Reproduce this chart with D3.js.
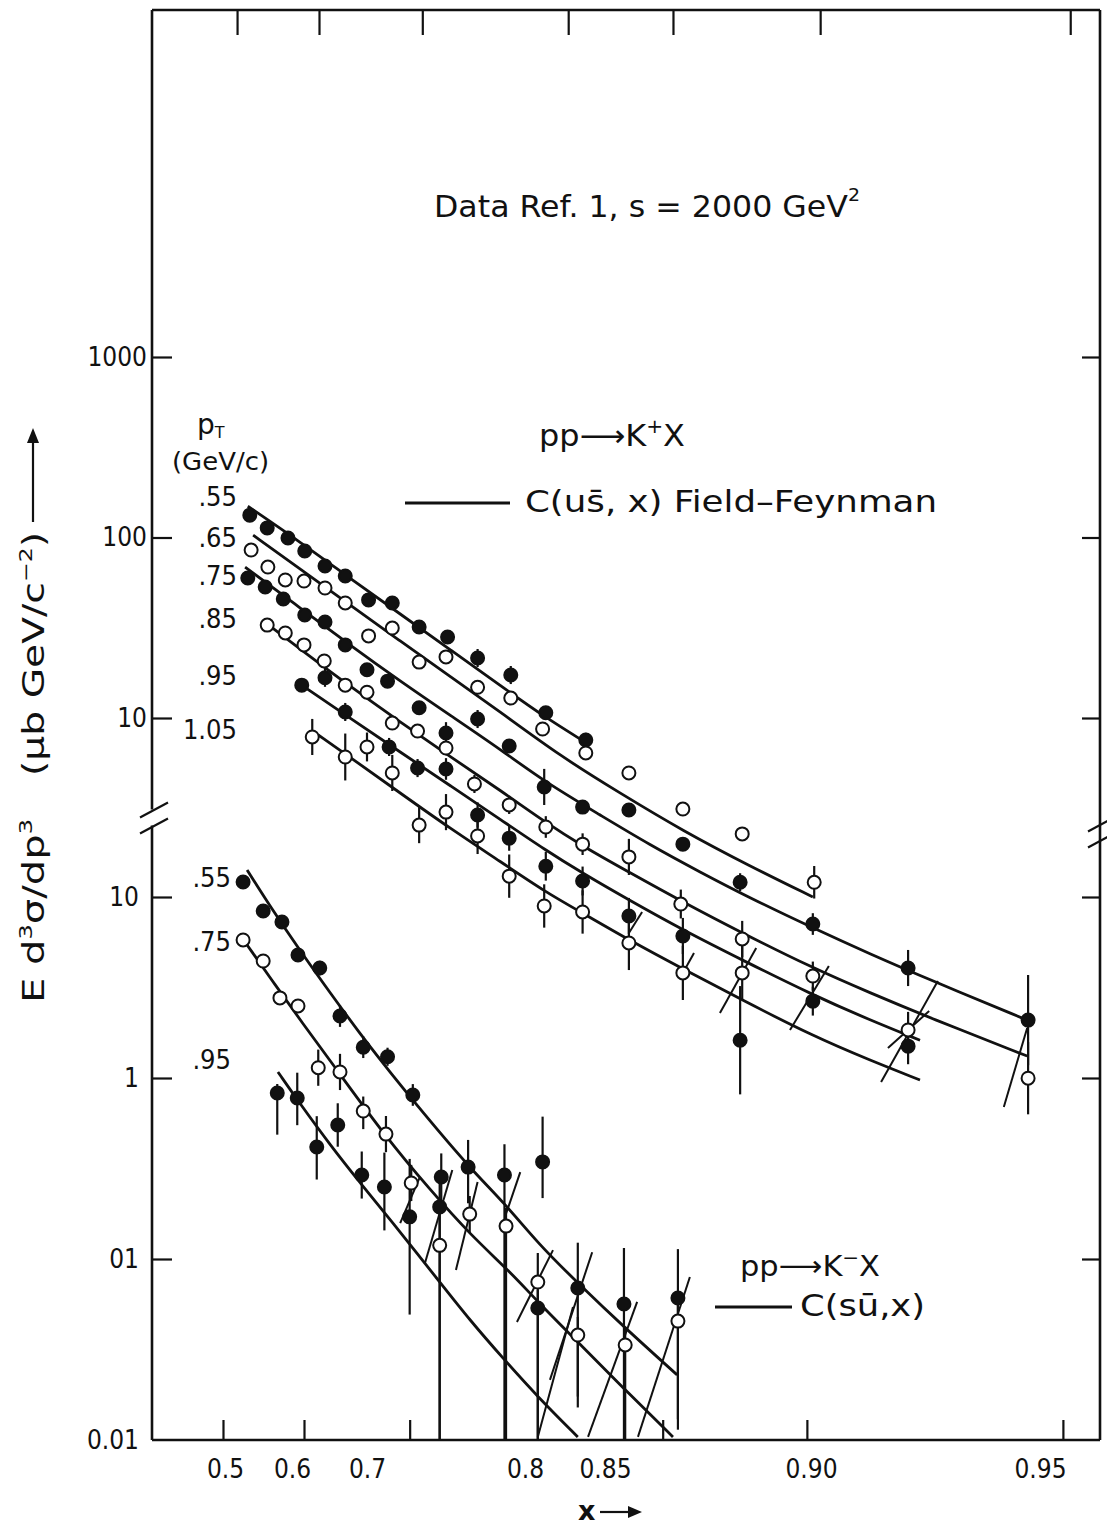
<!DOCTYPE html>
<html><head><meta charset="utf-8">
<script src="https://cdn.jsdelivr.net/npm/d3@7"></script>
<style>
html,body{margin:0;padding:0;background:#fff;}
svg{display:block;font-family:'DejaVu Sans',sans-serif;}
</style></head><body>
<svg id="chart" width="1107" height="1528"></svg>
<script>
// ---------------- axis / tick data ----------------
const xTickVals   = [0.5, 0.6, 0.7, 0.8, 0.85, 0.90, 0.95];
const xTickLabels = ["0.5","0.6","0.7","0.8","0.85","0.90","0.95"];
const xTickMarksBottom = [0.497, 0.616, 0.727, 0.864, 0.899, 0.955];
const xTickMarksTop    = [0.518, 0.636, 0.735, 0.827, 0.8665, 0.902, 0.9566];
const yTicksUpper = [10, 100, 1000];
const yTickLabelsUpper = ["10","100","1000"];
const yTicksLower = [0.01, 0.1, 1, 10];
const yTickLabelsLower = ["0.01","01","1","10"];
const kpPt = [".55",".65",".75",".85",".95","1.05"];
const kmPt = [".55",".75",".95"];

// ---------------- pp -> K+ X data (pT series) ----------------
const kpX55 = [0.537,0.563,0.594,0.617,0.644,0.671,0.701,0.716,0.733,0.751,0.770,0.791,0.813,0.838];
const kpV55 = [133,113,99.4,84.2,69.5,61.2,45.1,43.4,31.9,28.1,21.5,17.3,10.7,7.55];
const kpE55 = [0,0,0,0,0,0,0,0,0,0,0.05,0.05,0,0.04];

const kpX65 = [0.539,0.564,0.590,0.616,0.644,0.671,0.701,0.716,0.733,0.750,0.770,0.791,0.811,0.838,0.8558,0.8689,0.8833,0.9007];
const kpV65 = [85.2,68.6,58.2,57.4,52.5,43.4,28.5,31.5,20.4,21.8,14.8,12.9,8.69,6.40,4.96,3.13,2.28,1.23];
const kpE65 = [0,0,0,0,0,0,0,0,0,0,0,0,0,0,0,0,0,0.09];

const kpX75 = [0.534,0.560,0.587,0.617,0.644,0.671,0.700,0.713,0.733,0.750,0.770,0.790,0.812,0.836,0.8558,0.8689,0.8828,0.9004,0.9212,0.9474];
const kpV75 = [59.6,53.2,45.6,37.2,34.0,25.4,18.5,16.0,11.4,8.26,9.87,7.00,4.15,3.21,3.09,2.00,1.23,0.722,0.412,0.212];
const kpE75 = [0,0,0,0,0,0,0,0.03,0,0.06,0.05,0,0.1,0,0,0,0.05,0.06,0.1,0.25];

const kpX85 = [0.563,0.590,0.616,0.643,0.671,0.700,0.716,0.732,0.750,0.768,0.790,0.813,0.836,0.8558,0.8684,0.8833,0.9004,0.9212,0.9474];
const kpV85 = [32.7,29.6,25.4,20.7,15.2,13.9,9.38,8.47,6.82,4.31,3.30,2.49,2.00,1.70,0.932,0.597,0.372,0.187,0.101];
const kpE85 = [0,0,0,0,0,0,0,0,0.04,0.05,0.05,0.06,0.06,0.1,0.08,0.1,0.08,0.1,0.2];

const kpX95 = [0.613,0.644,0.671,0.714,0.732,0.750,0.770,0.790,0.813,0.836,0.8558,0.8689,0.8828,0.9004,0.9212];
const kpV95 = [15.2,16.7,10.8,6.91,5.28,5.22,2.90,2.16,1.51,1.25,0.800,0.620,0.164,0.270,0.152];
const kpE95 = [0,0.05,0.05,0.05,0.05,0.06,0.07,0.07,0.08,0.08,0.1,0.1,0.3,0.08,0.1];

const kpX105 = [0.627,0.671,0.700,0.716,0.733,0.750,0.770,0.790,0.812,0.836,0.8558,0.8689,0.8833];
const kpV105 = [7.85,6.08,6.91,4.96,2.55,3.01,2.22,1.33,0.909,0.842,0.567,0.387,0.387];
const kpE105 = [0.1,0.13,0.08,0.1,0.1,0.1,0.1,0.12,0.12,0.12,0.15,0.15,0.15];

// Field-Feynman curves C(u s-bar, x)
const kpC55x = [0.534,0.611,0.677,0.721,0.753,0.785,0.8125,0.8375];
const kpC55v = [149,94.4,59.6,37.7,23.8,15.0,10.1,7.36];
const kpC65x = [0.542,0.611,0.677,0.721,0.753,0.785,0.822,0.8536,0.8689,0.8852,0.9004];
const kpC65v = [103,66.9,42.3,26.7,16.9,10.7,6.16,3.84,2.37,1.51,1.02];
const kpC75x = [0.530,0.611,0.677,0.721,0.753,0.785,0.8125,0.847,0.8609,0.8731,0.8852,0.9004,0.9129,0.9260,0.9472];
const kpC75v = [68.6,40.7,25.4,16.0,10.3,6.65,4.42,2.90,1.98,1.40,1.006,0.687,0.493,0.354,0.212];
const kpC85x = [0.557,0.611,0.677,0.721,0.753,0.785,0.8125,0.836,0.8558,0.8689,0.8833,0.9004,0.9129,0.9260,0.9472];
const kpC85v = [34.5,24.1,15.0,9.50,6.08,3.94,2.65,1.95,1.40,0.956,0.644,0.412,0.300,0.218,0.134];
const kpC95x = [0.613,0.677,0.721,0.753,0.785,0.8125,0.836,0.8558,0.8689,0.8833,0.9004,0.9129,0.9238];
const kpC95v = [15.2,10.0,6.48,4.20,2.72,1.86,1.38,0.981,0.669,0.456,0.292,0.212,0.164];
const kpC105x = [0.635,0.677,0.721,0.753,0.785,0.8125,0.836,0.8558,0.8689,0.8833,0.9004,0.9129,0.9238];
const kpC105v = [8.05,6.08,3.84,2.43,1.59,1.09,0.831,0.589,0.407,0.274,0.173,0.127,0.0987];

// slanted error segments [x1, v1, x2, v2]
const kpSlants = [
  [0.8558,0.644,0.8590,0.842],
  [0.8689,0.387,0.8716,0.499],
  [0.8779,0.232,0.8867,0.532],
  [0.8949,0.187,0.9039,0.423],
  [0.9153,0.0962,0.9277,0.349],
  [0.9168,0.1485,0.9258,0.238],
  [0.9421,0.070,0.9472,0.1916]
];

// ---------------- pp -> K- X data ----------------
const kmX55 = [0.527,0.557,0.585,0.608,0.637,0.664,0.695,0.713,0.729,0.747,0.764,0.787,0.811,0.833,0.8546,0.8677];
const kmV55 = [12.1,8.37,7.28,4.78,4.05,2.20,1.48,1.31,0.806,0.284,0.322,0.291,0.344,0.0692,0.0564,0.0609];
const kmLo55 = [0,0,0,0,0.04,0.06,0.06,0.05,0.06,0.15,0.2,2,0.2,0.6,2,0.67];
const kmHi55 = [0,0,0,0,0.04,0.06,0.06,0.05,0.06,0.13,0.15,0.17,0.25,0.25,0.31,0.27];

const kmX75 = [0.527,0.557,0.582,0.608,0.635,0.664,0.695,0.712,0.728,0.746,0.765,0.788,0.808,0.833,0.8549,0.8677];
const kmV75 = [5.79,4.43,2.77,2.50,1.14,1.08,0.657,0.490,0.263,0.119,0.177,0.152,0.0746,0.0380,0.0335,0.0454];
const kmLo75 = [0,0,0,0.03,0.1,0.1,0.1,0.1,0.1,2,0.1,2,2,0.4,2,0.6];
const kmHi75 = [0,0,0,0.03,0.1,0.1,0.08,0.1,0.1,0.2,0.1,0.1,0.16,0.1,0.1,0.1];

const kmX95 = [0.578,0.607,0.633,0.661,0.693,0.711,0.727,0.746,0.808];
const kmV95 = [0.826,0.775,0.416,0.550,0.291,0.250,0.171,0.194,0.0536];
const kmLo95 = [0.23,0.15,0.18,0.12,0.13,0.24,0.54,2,2];
const kmHi95 = [0.05,0.14,0.17,0.12,0.13,0.19,0.32,0.2,0.1];

// curves C(s u-bar, x)
const kmC55x = [0.533,0.567,0.611,0.651,0.695,0.715,0.734,0.765,0.787,0.809,0.833,0.8546,0.8675];
const kmC55v = [14.1,8.92,5.03,2.95,1.66,1.066,0.666,0.318,0.204,0.1195,0.0737,0.0421,0.0229];
const kmC75x = [0.533,0.575,0.611,0.664,0.711,0.740,0.765,0.792,0.808,0.833,0.8549,0.8665];
const kmC75v = [5.43,3.27,2.09,1.05,0.484,0.2405,0.1374,0.0826,0.0579,0.0348,0.0189,0.0104];
const kmC95x = [0.579,0.611,0.651,0.691,0.715,0.745,0.765,0.787,0.808,0.833];
const kmC95v = [1.08,0.718,0.426,0.263,0.164,0.0766,0.0460,0.0277,0.0173,0.0104];

const kmSlants = [
  [0.721,0.158,0.7335,0.284],
  [0.7367,0.0950,0.754,0.310],
  [0.7563,0.0869,0.770,0.266],
  [0.7873,0.1706,0.797,0.302],
  [0.7949,0.0449,0.8175,0.112],
  [0.8156,0.0215,0.842,0.109],
  [0.808,0.0104,0.830,0.0543],
  [0.8394,0.0104,0.8578,0.0579],
  [0.858,0.0104,0.8706,0.0795]
];

// ---------------- layout ----------------
const W = 1107, H = 1528;
const L = 152, R = 1100, T = 10, B = 1440;
const INK = "#111";
const FONT = "'DejaVu Sans',sans-serif";
const COND = "'DejaVu Sans Condensed','DejaVu Sans',sans-serif";
const svg = d3.select("#chart");
svg.append("rect").attr("width", W).attr("height", H).attr("fill", "#fff");

const x  = d3.scaleLinear().domain(xTickVals).range([225, 292, 367, 525, 605, 811, 1040]);
const yU = d3.scaleLog().domain([10, 1000]).range([718, 357]);
const yL = d3.scaleLog().domain([0.01, 10]).range([1440, 897]);

svg.append("defs").append("clipPath").attr("id", "clip")
  .append("rect").attr("x", L).attr("y", T).attr("width", R - L).attr("height", B - T);
const plot = svg.append("g").attr("clip-path", "url(#clip)");

const kp = [
  {x: kpX55,  v: kpV55,  lo: kpE55,  hi: kpE55,  cx: kpC55x,  cv: kpC55v,  filled: true},
  {x: kpX65,  v: kpV65,  lo: kpE65,  hi: kpE65,  cx: kpC65x,  cv: kpC65v,  filled: false},
  {x: kpX75,  v: kpV75,  lo: kpE75,  hi: kpE75,  cx: kpC75x,  cv: kpC75v,  filled: true},
  {x: kpX85,  v: kpV85,  lo: kpE85,  hi: kpE85,  cx: kpC85x,  cv: kpC85v,  filled: false},
  {x: kpX95,  v: kpV95,  lo: kpE95,  hi: kpE95,  cx: kpC95x,  cv: kpC95v,  filled: true},
  {x: kpX105, v: kpV105, lo: kpE105, hi: kpE105, cx: kpC105x, cv: kpC105v, filled: false}
];
const km = [
  {x: kmX55, v: kmV55, lo: kmLo55, hi: kmHi55, cx: kmC55x, cv: kmC55v, filled: true},
  {x: kmX75, v: kmV75, lo: kmLo75, hi: kmHi75, cx: kmC75x, cv: kmC75v, filled: false},
  {x: kmX95, v: kmV95, lo: kmLo95, hi: kmHi95, cx: kmC95x, cv: kmC95v, filled: true}
];

function drawSet(series, y, slants) {
  const line = d3.line().x(d => x(d[0])).y(d => y(d[1])).curve(d3.curveBasis);
  const g = plot.append("g");
  series.forEach(s => {
    g.append("path").datum(s.cx.map((cx, i) => [cx, s.cv[i]]))
      .attr("d", line).attr("fill", "none").attr("stroke", INK).attr("stroke-width", 2.8);
  });
  slants.forEach(sl => {
    g.append("line").attr("x1", x(sl[0])).attr("y1", y(sl[1])).attr("x2", x(sl[2])).attr("y2", y(sl[3]))
      .attr("stroke", INK).attr("stroke-width", 2);
  });
  series.forEach(s => {
    s.x.forEach((xv, i) => {
      if (s.lo[i] > 0 || s.hi[i] > 0) {
        g.append("line").attr("x1", x(xv)).attr("x2", x(xv))
          .attr("y1", y(s.v[i] / Math.pow(10, s.lo[i]))).attr("y2", y(s.v[i] * Math.pow(10, s.hi[i])))
          .attr("stroke", INK).attr("stroke-width", 2.2);
      }
    });
  });
  series.forEach(s => {
    g.selectAll(null).data(s.x.map((xv, i) => [xv, s.v[i]])).enter().append("circle")
      .attr("cx", d => x(d[0])).attr("cy", d => y(d[1])).attr("r", 6.5)
      .attr("fill", s.filled ? INK : "#fff").attr("stroke", INK).attr("stroke-width", 2);
  });
}
drawSet(kp, yU, kpSlants);
drawSet(km, yL, kmSlants);

// ---------------- axes ----------------
function styleAxis(g, fs, fam) {
  g.select(".domain").remove();
  g.selectAll(".tick line").attr("stroke", INK).attr("stroke-width", 2.2);
  g.selectAll(".tick text").attr("fill", INK).attr("font-size", fs).attr("font-family", fam || FONT);
}
const axU = svg.append("g").attr("transform", `translate(${L},0)`)
  .call(d3.axisLeft(yU).tickValues(yTicksUpper).tickFormat((d, i) => yTickLabelsUpper[i]).tickSizeInner(-20).tickSizeOuter(0).tickPadding(5));
styleAxis(axU, 26, COND);
const axLw = svg.append("g").attr("transform", `translate(${L},0)`)
  .call(d3.axisLeft(yL).tickValues(yTicksLower).tickFormat((d, i) => yTickLabelsLower[i]).tickSizeInner(-20).tickSizeOuter(0).tickPadding(13));
styleAxis(axLw, 26, COND);
axLw.selectAll(".tick").filter(d => d === 0.01).select("line").remove();
const axRU = svg.append("g").attr("transform", `translate(${R},0)`)
  .call(d3.axisRight(yU).tickValues(yTicksUpper).tickFormat("").tickSizeInner(-18).tickSizeOuter(0));
styleAxis(axRU, 10);
const axRL = svg.append("g").attr("transform", `translate(${R},0)`)
  .call(d3.axisRight(yL).tickValues(yTicksLower.filter(v => v > 0.01)).tickFormat("").tickSizeInner(-18).tickSizeOuter(0));
styleAxis(axRL, 10);

const axB = svg.append("g").attr("transform", `translate(0,${B})`)
  .call(d3.axisBottom(x).tickValues(xTickVals).tickFormat((d, i) => xTickLabels[i]).tickSize(0).tickPadding(20));
styleAxis(axB, 26, COND);
const axBT = svg.append("g").attr("transform", `translate(0,${B})`)
  .call(d3.axisBottom(x).tickValues(xTickMarksBottom).tickFormat("").tickSizeInner(-20).tickSizeOuter(0));
styleAxis(axBT, 10);
const axT = svg.append("g").attr("transform", `translate(0,${T})`)
  .call(d3.axisTop(x).tickValues(xTickMarksTop).tickFormat("").tickSizeInner(-25).tickSizeOuter(0));
styleAxis(axT, 10);

// frame with axis break
const breakY = (yU(10) + yL(10)) / 2 + 12;
const fr = svg.append("g").attr("stroke", INK).attr("stroke-width", 2.6).attr("fill", "none");
fr.append("line").attr("x1", L).attr("y1", T).attr("x2", R).attr("y2", T);
fr.append("line").attr("x1", L).attr("y1", B).attr("x2", R).attr("y2", B);
fr.append("line").attr("x1", R).attr("y1", T).attr("x2", R).attr("y2", B);
fr.append("line").attr("x1", L).attr("y1", T).attr("x2", L).attr("y2", breakY - 10);
fr.append("line").attr("x1", L).attr("y1", breakY + 6).attr("x2", L).attr("y2", B);
[[L, breakY], [R, breakY + 14]].forEach(([bx, by]) => {
  fr.append("line").attr("x1", bx - 12).attr("y1", by - 2).attr("x2", bx + 16).attr("y2", by - 17).attr("stroke-width", 2.2);
  fr.append("line").attr("x1", bx - 12).attr("y1", by + 14).attr("x2", bx + 16).attr("y2", by - 1).attr("stroke-width", 2.2);
});

// ---------------- labels ----------------
const txt = svg.append("g").attr("fill", INK);
function label(xp, yp, size, anchor) {
  return txt.append("text").attr("x", xp).attr("y", yp).attr("font-size", size)
    .attr("text-anchor", anchor || "start").attr("dominant-baseline", "middle");
}
function fit(sel, len) {
  return sel.attr("textLength", len).attr("lengthAdjust", "spacingAndGlyphs");
}
const kpLabelDy = [-8, 4, 10, 0, -8, -4];
kp.forEach((s, i) => {
  label(237, yU(s.cv[0]) + kpLabelDy[i], 27, "end").attr("font-family", COND).text(kpPt[i]);
});
const kmLabelDy = [10, -2, -10];
km.forEach((s, i) => {
  label(231, yL(s.cv[0]) + kmLabelDy[i], 27, "end").attr("font-family", COND).text(kmPt[i]);
});
const pt = txt.append("text").attr("x", 197).attr("y", 434).attr("font-size", 28);
pt.append("tspan").text("p");
pt.append("tspan").attr("font-size", 16).attr("dy", 4).text("T");
fit(txt.append("text").attr("x", 172).attr("y", 470).attr("font-size", 25), 97).text("(GeV/c)");

// title
const ti = fit(label(434, 208, 30), 426);
ti.append("tspan").text("Data Ref. 1, s = 2000 GeV");
ti.append("tspan").attr("font-size", 18).attr("dy", -12).text("2");

// K+ legend
const kpT = fit(label(539, 437, 30), 146);
kpT.append("tspan").text("pp\u27F6K");
kpT.append("tspan").attr("font-size", 19).attr("dy", -10).text("+");
kpT.append("tspan").attr("dy", 10).text("X");
svg.append("line").attr("x1", 405).attr("x2", 510).attr("y1", 503).attr("y2", 503).attr("stroke", INK).attr("stroke-width", 3);
fit(label(525, 503, 30), 412).text("C(us\u0304, x)  Field\u2013Feynman");

// K- legend
const kmT = fit(label(740, 1268, 29), 140);
kmT.append("tspan").text("pp\u27F6K");
kmT.append("tspan").attr("font-size", 19).attr("dy", -10).text("\u2212");
kmT.append("tspan").attr("dy", 10).text("X");
svg.append("line").attr("x1", 715).attr("x2", 792).attr("y1", 1307).attr("y2", 1307).attr("stroke", INK).attr("stroke-width", 3);
fit(label(800, 1307, 30), 125).text("C(s\u016B,x)");

// y title (rotated)
const yt1 = fit(txt.append("text").attr("transform", "translate(44,1003) rotate(-90)").attr("font-size", 30), 184);
yt1.append("tspan").text("E d");
yt1.append("tspan").attr("font-size", 18).attr("dy", -12).text("3");
yt1.append("tspan").attr("dy", 12).text("\u03C3/dp");
yt1.append("tspan").attr("font-size", 18).attr("dy", -12).text("3");
const yt2 = fit(txt.append("text").attr("transform", "translate(44,776) rotate(-90)").attr("font-size", 30), 244);
yt2.append("tspan").text("(\u00B5b GeV/c");
yt2.append("tspan").attr("font-size", 18).attr("dy", -12).text("\u22122");
yt2.append("tspan").attr("dy", 12).text(")");
svg.append("line").attr("x1", 33).attr("x2", 33).attr("y1", 522).attr("y2", 440).attr("stroke", INK).attr("stroke-width", 2.2);
svg.append("path").attr("d", "M33,428 L27,443 L39,443 Z").attr("fill", INK);

// x title
label(578, 1512, 27).attr("font-weight", "bold").text("x");
svg.append("line").attr("x1", 600).attr("x2", 632).attr("y1", 1512).attr("y2", 1512).attr("stroke", INK).attr("stroke-width", 2.2);
svg.append("path").attr("d", "M642,1512 L628,1506 L628,1518 Z").attr("fill", INK);
</script></body></html>
